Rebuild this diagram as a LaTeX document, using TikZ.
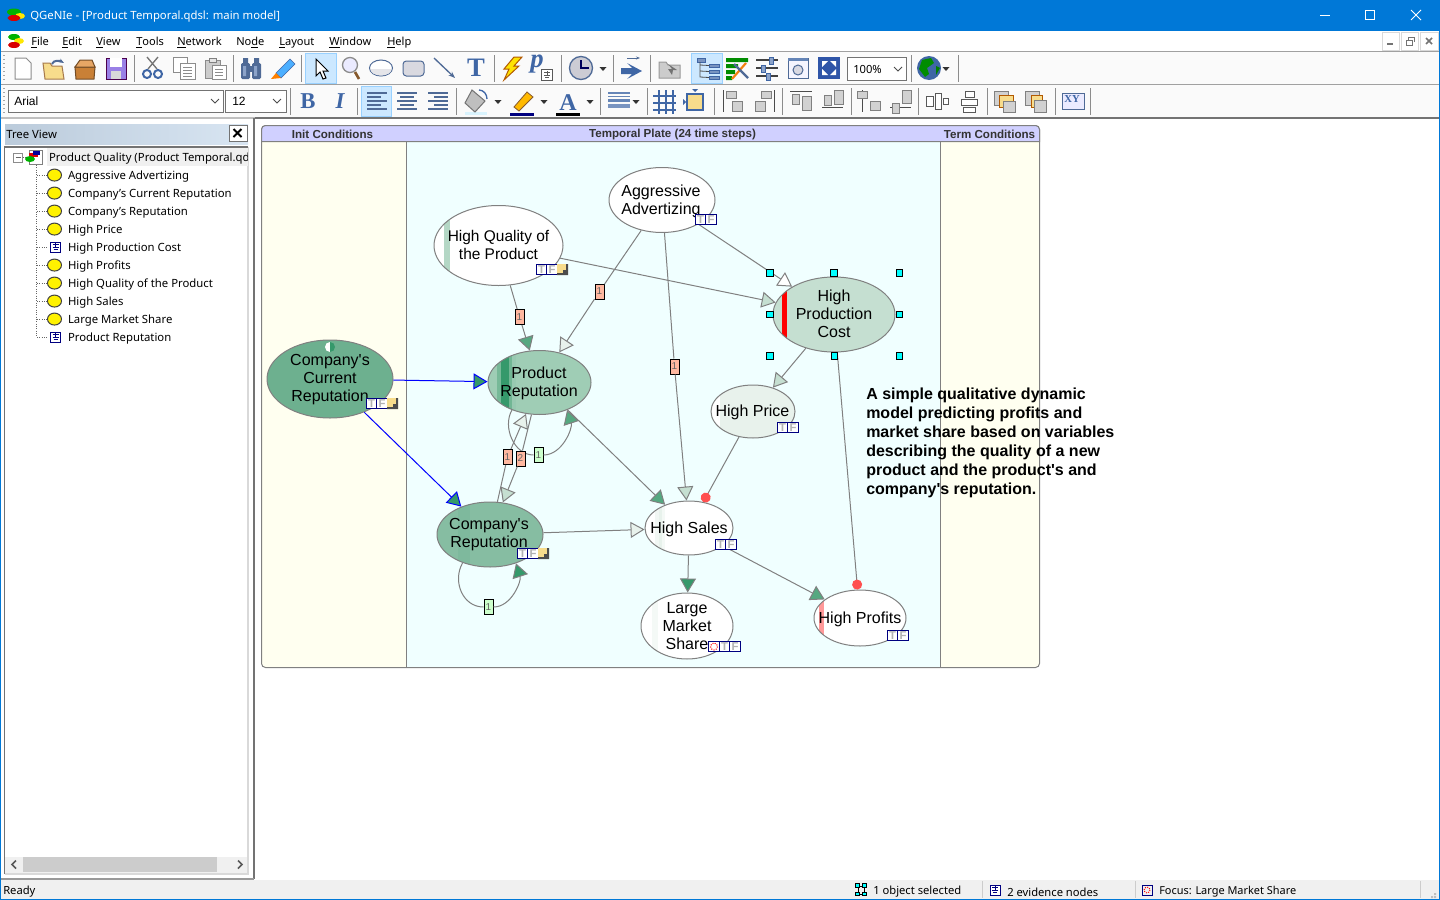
\documentclass[tikz,border=0pt]{standalone}
\usepackage{fontspec}
\usetikzlibrary{positioning,shapes.geometric,arrows.meta}
\setmainfont{Noto Sans}
\newfontfamily\arial{Liberation Sans}
\newfontfamily\serifb{Liberation Serif}
\definecolor{winblue}{HTML}{0078D7}
\definecolor{chrome}{HTML}{F0F0F0}
\definecolor{rulegray}{HTML}{A0A0A0}
\definecolor{hotfill}{HTML}{CCE8FF}
\definecolor{hotline}{HTML}{99D1FF}
\definecolor{iconblue}{HTML}{3F66A5}
\definecolor{icondark}{HTML}{4F6A96}
\definecolor{ivory}{HTML}{FFFFF0}
\definecolor{azure}{HTML}{F0FFFF}
\definecolor{plateband}{HTML}{D0D0FF}
\definecolor{edgegray}{HTML}{808080}
\definecolor{navyb}{HTML}{000080}
\definecolor{hdark}{HTML}{35996B}
\definecolor{hmid}{HTML}{55A880}
\definecolor{hpale}{HTML}{C5DFD1}
\definecolor{hwhite}{HTML}{E8F2EC}
\definecolor{redtip}{HTML}{FF5050}
\definecolor{lagred}{HTML}{FFB8A0}
\definecolor{laggreen}{HTML}{CCFFCC}
\definecolor{handlecyan}{HTML}{00FFFF}
\definecolor{currentf}{HTML}{6DB08F}
\definecolor{companyf}{HTML}{86BDA2}
\definecolor{productf}{HTML}{9FCDB5}
\definecolor{notey}{HTML}{F7DC8C}
\definecolor{headl}{HTML}{BBCBDB}
\definecolor{headr}{HTML}{D8E5F2}
\definecolor{fitblue}{HTML}{2F55A8}
\tikzset{
  wh/.style 2 args={minimum width=#1*0.75pt, minimum height=#2*0.75pt},
  bn/.style={ellipse, draw=edgegray, line width=0.75pt, inner sep=0pt, fill=white},
  bntext/.style={align=center, inner sep=0pt, font=\arial\fontsize{12}{13.5}\selectfont},
  link/.style={draw=edgegray, line width=0.75pt},
  tip/.style={-{Triangle[length=10.5pt,width=12pt,fill=#1]}},
  redcap/.style={-{Circle[length=7.5pt,fill=redtip,color=redtip]}},
  lag/.style={draw=black, line width=0.75pt, inner sep=0pt, wh={9}{15}, fill=#1,
    font=\arial\fontsize{7.5}{8}\selectfont, text=black!60},
  tfbox/.style={draw=navyb, line width=0.75pt, fill=white, inner sep=0pt, wh={10.5}{10.5},
    font=\arial\bfseries\fontsize{8.5}{8.5}\selectfont, text=black!30},
  notebox/.style={draw=none, fill=notey, inner sep=0pt, wh={11}{11},
    path picture={\fill[black!70] (5.5,-5.5) rectangle (3.5,5.5) (-5.5,5.5) rectangle (5.5,3.5);
      \fill[black!70] (0.5,0.5) rectangle (3.5,3.5);}},
  handle/.style={rectangle, draw=black, line width=0.75pt, fill=handlecyan, inner sep=0pt, wh={6.5}{6.5}},
  ui/.style={inner sep=0pt, anchor=west, font=\fontsize{8.4}{10}\selectfont},
  menu/.style={ui, font=\fontsize{8.3}{10}\selectfont},
  treetext/.style={ui, outer sep=0pt, font=\fontsize{8.5}{10}\selectfont, minimum height=13.5pt, text height=7pt, text depth=2pt},
  bulb/.style={ellipse, draw=black!75, line width=0.75pt, fill=yellow, inner sep=0pt, wh={14}{12}},
  evbox/.style={rectangle, draw=navyb, line width=0.75pt, fill=white, inner sep=0pt, wh={10}{10},
    path picture={\draw[line width=0.5pt] (-3,-2.5) -- (3,-2.5) (-3,0) -- (3,0) (-2,2.5) -- (2,2.5) (0,-4) -- (0,0);}},
  sepline/.style={draw=black!45, line width=0.75pt},
  combo/.style={draw=black!55, line width=0.75pt, fill=white},
  hotbox/.style={draw=hotline, line width=0.75pt, fill=hotfill},
  graybox/.style={draw=black!50, line width=0.6pt, fill=black!18},
  rowline/.style={line width=1.4pt, draw=icondark},
  plateh/.style={inner sep=0pt, font=\arial\bfseries\fontsize{8.7}{10}\selectfont, text=black!80},
  ddown/.pic={\fill[black!80] (-3.5,-2) -- (3.5,-2) -- (0,2) -- cycle;},
  chevron/.pic={\draw[black!70, line width=0.75pt] (-4,-2) -- (0,2) -- (4,-2);},
}
\begin{document}
\begin{tikzpicture}[x=0.75pt,y=-0.75pt]
\useasboundingbox (0,0) rectangle (1440,900);
% window frame, title bar
\fill[white] (0,0) rectangle (1440,900);
\fill[winblue] (0,0) rectangle (1440,31);
\fill[green!70!black] (14,12) ellipse (7 and 3.5);
\fill[yellow!90!orange] (20,16) ellipse (5 and 3);
\fill[red!85!black] (14,18) ellipse (6.5 and 3);
\node[ui, text=white, font=\fontsize{8.5}{10}\selectfont] (title) at (30,17) {QGeNIe - [Product Temporal.qdsl: main model]};
\draw[white, line width=0.75pt] (1320,15.5) -- (1330,15.5);
\draw[white, line width=0.75pt] (1365.5,10.5) rectangle (1374.5,19.5);
\draw[white, line width=0.75pt] (1411,10) -- (1421,20) (1411,20) -- (1421,10);

% menu bar
\fill[green!70!black] (14,37) ellipse (6 and 3);
\fill[yellow!90!orange] (19,41) ellipse (5 and 3);
\fill[red!85!black] (14,45) ellipse (6 and 3);
\node[menu] (mfile) at (31,42.5) {\underline{F}ile};
\node[menu] (medit) at (62,42.5) {\underline{E}dit};
\node[menu] (mview) at (96,42.5) {\underline{V}iew};
\node[menu] (mtools) at (136,42.5) {\underline{T}ools};
\node[menu] (mnet) at (177,42.5) {\underline{N}etwork};
\node[menu] (mnode) at (236,42.5) {No\underline{d}e};
\node[menu] (mlayout) at (279,42.5) {\underline{L}ayout};
\node[menu] (mwin) at (329,42.5) {\underline{W}indow};
\node[menu] (mhelp) at (387,42.5) {\underline{H}elp};
\draw[black!15, line width=0.75pt] (1382,32) rectangle (1399,50) (1401,32) rectangle (1418,50) (1420,32) rectangle (1438,50);
\draw[black!55, line width=1.2pt] (1387,44) -- (1393,44);
\draw[black!55, line width=0.75pt] (1406,40) rectangle (1412,45) (1408,40) -- (1408,37) -- (1414,37) -- (1414,42);
\draw[black!55, line width=1.3pt] (1426,38) -- (1432,44) (1426,44) -- (1432,38);

% toolbars
\fill[black!2] (1,52) rectangle (1440,84);
\fill[black!2] (1,85) rectangle (1440,117);
\draw[rulegray, line width=0.75pt] (0,51.5) -- (1440,51.5) (0,84.5) -- (1440,84.5);
\draw[black!25, line width=1.1pt] (0,118) -- (255,118);
\draw[black!55, line width=1.1pt] (255,118) -- (1440,118);
\draw[black!35, line width=1pt, dotted] (4,55) -- (4,82) (4,88) -- (4,115);
\draw[sepline] (134,55) -- (134,82) (233,55) -- (233,82) (301,55) -- (301,82) (494,55) -- (494,82) (561,55) -- (561,82) (613,55) -- (613,82) (650,55) -- (650,82) (911,55) -- (911,82) (958,55) -- (958,82);
\draw[sepline] (290,88) -- (290,115) (357,88) -- (357,115) (456,88) -- (456,115) (600,88) -- (600,115) (647,88) -- (647,115) (714,88) -- (714,115) (782,88) -- (782,115) (851,88) -- (851,115) (918,88) -- (918,115) (987,88) -- (987,115) (1055,88) -- (1055,115) (1090,88) -- (1090,115);

% first row of icons
\filldraw[fill=white, draw=black!45, line width=0.75pt] (15,58) -- (26,58) -- (31,63) -- (31,79) -- (15,79) -- cycle;
\filldraw[fill=notey, draw=orange!50!black!70, line width=0.75pt] (43,63) -- (50,63) -- (52,66) -- (62,66) -- (64,79) -- (45,79) -- cycle;
\draw[icondark, line width=1.5pt, -{Stealth[length=4pt]}] (52,64) to[out=70,in=150] (64,63);
\filldraw[fill=brown!85!orange, draw=brown!60!black, line width=0.75pt] (75,67) -- (95,67) -- (94,79) -- (76,79) -- cycle;
\filldraw[fill=orange!45!brown!70, draw=brown!60!black, line width=0.75pt] (75,67) -- (80,60) -- (92,60) -- (95,67) -- cycle;
\filldraw[fill=violet!40!blue!50, draw=violet!60!black, line width=0.75pt] (106,58) rectangle (126,79);
\fill[white] (110,58) rectangle (122,67);
\fill[black!15] (111,71) rectangle (121,79);
\draw[black!55, line width=1pt] (148,69) -- (158,57) (157,69) -- (147,57);
\draw[iconblue, line width=1.5pt] (147,74) circle (4) (158,74) circle (4);
\filldraw[fill=white, draw=black!45, line width=0.75pt] (173,57) rectangle (187,72);
\filldraw[fill=white, draw=black!45, line width=0.75pt] (180,63) rectangle (195,79);
\draw[black!45, line width=0.75pt] (183,67) -- (192,67) (183,70) -- (192,70) (183,73) -- (192,73) (183,76) -- (192,76);
\filldraw[fill=black!20, draw=black!45, line width=0.75pt] (205,60) rectangle (220,78);
\filldraw[fill=black!10, draw=black!50, line width=0.75pt] (209,58) rectangle (216,62);
\filldraw[fill=white, draw=black!45, line width=0.75pt] (212,65) rectangle (226,79);
\draw[black!45, line width=0.75pt] (215,69) -- (223,69) (215,72) -- (223,72) (215,75) -- (223,75);
\fill[icondark] (243,58) rectangle (248,63) (254,58) rectangle (259,63);
\fill[icondark, rounded corners=1pt] (241,63) rectangle (250,79) (252,63) rectangle (261,79);
\fill[icondark] (249,66) rectangle (253,72);
\fill[iconblue!60!white] (243,66) rectangle (246,76) (254,66) rectangle (257,76);
\filldraw[fill=blue!45!cyan!70, draw=iconblue, line width=0.5pt] (276,73) -- (290,59) -- (295,64) -- (281,78) -- cycle;
\fill[orange] (276,73) -- (281,78) -- (271,79) -- cycle;
\filldraw[hotbox] (305,53) rectangle (336,83);
\filldraw[fill=white, draw=black, line width=0.75pt] (316,59) -- (316,76) -- (320,72) -- (323,79) -- (326,78) -- (323,71) -- (328,71) -- cycle;
\draw[brown!70!black, line width=2pt] (355,72) -- (359,79);
\filldraw[fill=blue!8, draw=black!45, line width=1pt] (350,65) circle (7.5);
\filldraw[fill=white, draw=icondark, line width=0.75pt] (381,68) ellipse (11.5 and 8);
\fill[blue!15!black!10] (370.5,69) arc (180:0:10.5 and 6.5) -- cycle;
\filldraw[fill=blue!20!black!15, draw=icondark, line width=0.75pt, rounded corners=2.5pt] (403,61) rectangle (424,76);
\draw[icondark, line width=1pt, -{Stealth[length=5pt]}] (434,58) -- (455,78);
\node[inner sep=0pt, text=iconblue, font=\serifb\bfseries\fontsize{20}{20}\selectfont] (ttool) at (476,68) {T};
\filldraw[fill=yellow!85!orange, draw=orange!70!black, line width=0.75pt] (514,57) -- (522,57) -- (514,66) -- (519,66) -- (504,80) -- (509,69) -- (504,69) -- cycle;
\node[inner sep=0pt, text=iconblue, font=\serifb\bfseries\itshape\fontsize{20}{20}\selectfont] (ptool) at (537,64) {p};
\node[evbox, wh={11}{11}, draw=black!65] (pground) at (547,75) {};
\filldraw[fill=blue!15!black!20, draw=icondark, line width=1pt] (581,68) circle (11.5);
\draw[navyb!70!black, line width=1.2pt] (581,60) -- (581,68) -- (589,68);
\pic at (603,69) {ddown};
\fill[iconblue] (621,68) -- (632,68) -- (627,63) -- (642,71) -- (627,79) -- (632,74) -- (621,74) -- cycle;
\draw[icondark, line width=0.75pt, -{Stealth[length=3pt]}] (627,58) -- (640,58);
\filldraw[fill=black!20, draw=black!40, line width=0.75pt] (659,62) -- (666,62) -- (668,65) -- (680,65) -- (680,78) -- (659,78) -- cycle;
\fill[black!55] (672,75) -- (668,69) -- (672,69) -- (668,64) -- (677,70) -- (673,70) -- cycle;
\filldraw[hotbox] (691,53) rectangle (722,83);
\filldraw[fill=iconblue!70!white, draw=iconblue] (697,58) rectangle (705,62);
\filldraw[fill=iconblue!70!white, draw=iconblue] (709,64) rectangle (719,67) (709,70) rectangle (719,73) (709,76) rectangle (719,79);
\draw[black!70, line width=0.6pt] (700,62) -- (700,77) -- (709,77.5) (700,65) -- (709,65.5) (700,71) -- (709,71.5);
\fill[green!55!black] (726,58) rectangle (748,62) (726,64) rectangle (738,68) (726,70) rectangle (735,74) (726,76) rectangle (732,80);
\draw[orange!80!brown, line width=1.6pt] (732,79) -- (746,63);
\draw[icondark, line width=1.6pt] (734,64) -- (748,78);
\draw[black!75, line width=1pt] (756,60) -- (778,60) (756,68) -- (778,68) (756,76) -- (778,76);
\filldraw[fill=iconblue!60!white, draw=iconblue] (769,57) rectangle (773,64) (761,65) rectangle (765,72) (766,73) rectangle (770,80);
\filldraw[fill=blue!4, draw=icondark, line width=0.75pt] (788,58) rectangle (808,78);
\fill[iconblue!80!white] (788,58) rectangle (808,61);
\filldraw[fill=blue!25!black!15, draw=icondark, line width=0.75pt] (798,70) circle (5);
\fill[fitblue] (818,57) rectangle (840,79);
\fill[white] (822,61) -- (828,61) -- (822,67) -- cycle (836,61) -- (830,61) -- (836,67) -- cycle (822,75) -- (828,75) -- (822,69) -- cycle (836,75) -- (830,75) -- (836,69) -- cycle;
\filldraw[combo] (847,57) rectangle (906,80);
\node[ui] (zoomval) at (853,69) {100\%};
\pic at (898,69) {chevron};
\fill[iconblue] (929,68) circle (12);
\fill[green!55!black] (922,60) -- (931,58) -- (934,63) -- (927,68) -- (929,74) -- (925,77) -- (919,69) -- cycle;
\fill[green!50!black] (936,66) -- (940,68) -- (936,75) -- cycle;
\pic at (946,69) {ddown};

% second row: combos and formatting icons
\filldraw[combo] (8,90) rectangle (223,112);
\node[ui, font=\arial\fontsize{9}{10}\selectfont] (fontname) at (14,101) {Arial};
\pic at (215,101) {chevron};
\filldraw[combo] (225,90) rectangle (286,112);
\node[ui, font=\arial\fontsize{9}{10}\selectfont] (fontsize) at (232,101) {12};
\pic at (277,101) {chevron};
\node[inner sep=0pt, text=iconblue, font=\serifb\bfseries\fontsize{17}{17}\selectfont] (boldtool) at (308,101) {B};
\node[inner sep=0pt, text=iconblue, font=\serifb\bfseries\itshape\fontsize{17}{17}\selectfont] (italictool) at (340,101) {I};
\filldraw[hotbox] (361,86) rectangle (391,116);
\draw[rowline] (367,93) -- (387,93) (367,97) -- (381,97) (367,101) -- (387,101) (367,105) -- (381,105) (367,109) -- (387,109);
\draw[rowline] (397,93) -- (417,93) (400,97) -- (414,97) (397,101) -- (417,101) (400,105) -- (414,105) (397,109) -- (417,109);
\draw[rowline] (428,93) -- (448,93) (434,97) -- (448,97) (428,101) -- (448,101) (434,105) -- (448,105) (428,109) -- (448,109);
\fill[cyan!15] (465,112) rectangle (487,115);
\filldraw[fill=black!25, draw=black!55, line width=0.75pt] (472,90) -- (485,101) -- (475,112) -- (465,103) -- cycle;
\draw[iconblue, line width=1pt] (479,90) to[out=0,in=90] (487,99);
\pic at (498,102) {ddown};
\filldraw[fill=orange!55!yellow, draw=brown!70!black, line width=0.6pt] (514,107) -- (527,92) -- (533,97) -- (519,111) -- cycle;
\fill[navyb] (510,113) rectangle (534,116);
\pic at (544,102) {ddown};
\node[inner sep=0pt, text=iconblue, font=\serifb\bfseries\fontsize{18}{18}\selectfont] (colortool) at (568,103) {A};
\fill[black] (556,113) rectangle (580,116);
\pic at (590,102) {ddown};
\draw[iconblue!80!white, line width=1pt] (608,93) -- (630,93);
\draw[iconblue!80!white, line width=1.4pt] (608,96.5) -- (630,96.5);
\draw[iconblue!80!white, line width=2pt] (608,100.5) -- (630,100.5);
\draw[iconblue!70!white, line width=3pt] (608,106) -- (630,106);
\pic at (636,102) {ddown};
\draw[iconblue, line width=1pt] (653,96) -- (676,96) (653,103) -- (676,103) (653,110) -- (676,110) (659,90) -- (659,114) (666,90) -- (666,114) (673,90) -- (673,114);
\filldraw[fill=notey, draw=iconblue, line width=1pt] (687,94) rectangle (703,110);
\fill[iconblue] (692,89) -- (698,89) -- (695,92) -- cycle (683,99) -- (686,102) -- (683,105) -- cycle;
% alignment icons
\draw[black!70, line width=0.75pt] (723,90) -- (723,112);
\filldraw[graybox] (726,91) rectangle (736,98) (732,101) rectangle (742,111);
\draw[black!70, line width=0.75pt] (774,90) -- (774,112);
\filldraw[graybox] (761,91) rectangle (771,98) (755,101) rectangle (765,111);
\draw[black!70, line width=0.75pt] (790,91) -- (812,91);
\filldraw[graybox] (792,94) rectangle (799,104) (802,96) rectangle (811,110);
\draw[black!70, line width=0.75pt] (822,107) -- (843,107);
\filldraw[graybox] (824,95) rectangle (831,105) (834,90) rectangle (843,104);
\draw[black!70, line width=0.75pt] (862,90) -- (862,112);
\filldraw[graybox] (857,91) rectangle (867,98) (870,101) rectangle (880,110);
\draw[black!70, line width=0.75pt] (890,107) -- (911,107);
\filldraw[graybox] (892,103) rectangle (899,113) (902,90) rectangle (911,103);
\filldraw[fill=white, draw=black!65, line width=0.6pt] (926,96) rectangle (933,106) (935,93) rectangle (941,109) (943,98) rectangle (948,104);
\filldraw[fill=white, draw=black!65, line width=0.6pt] (965,91) rectangle (974,97) (961,99) rectangle (977,105) (963,107) rectangle (975,112);
\filldraw[graybox] (994,91) rectangle (1008,105);
\filldraw[fill=notey, draw=orange!70!black, line width=0.6pt] (999,95) rectangle (1013,107);
\filldraw[graybox] (1003,101) rectangle (1015,112);
\filldraw[graybox] (1025,91) rectangle (1039,105);
\filldraw[fill=notey, draw=orange!70!black, line width=0.6pt] (1031,95) rectangle (1042,107);
\filldraw[graybox] (1034,100) rectangle (1046,112);
\filldraw[fill=blue!8, draw=icondark, line width=0.75pt] (1062,93) rectangle (1084,109);
\node[inner sep=0pt, text=iconblue, font=\serifb\bfseries\fontsize{8}{8}\selectfont] (xytool) at (1072,99) {XY};

% tree view panel
\fill[left color=headl, right color=headr] (5,124) rectangle (248,144);
\node[ui, font=\fontsize{8.5}{10}\selectfont] (treehead) at (6,134) {Tree View};
\filldraw[fill=white, draw=black!55, line width=0.75pt] (229,125) rectangle (247,141);
\draw[black, line width=1.4pt] (233.5,129) -- (241.5,137) (233.5,137) -- (241.5,129);
\draw[black!15, line width=0.9pt] (4.5,874) -- (248,874) -- (248,147);
\draw[black!55, line width=0.9pt] (4.5,874) -- (4.5,147) -- (248,147);
\draw[black!55, line width=1.1pt] (254,118) -- (254,879);
\draw[black!40, line width=1.1pt] (0,879) -- (254,879);
\fill[chrome] (47,148) rectangle (248,166);
\begin{scope}
\clip (47,148) rectangle (247.5,166);
\node[treetext] (troot) at (49,158) {Product Quality (Product Temporal.qdsl)};
\end{scope}
\filldraw[fill=white, draw=black!45, line width=0.75pt] (13.5,153) rectangle (22.5,162);
\draw[black!60, line width=0.75pt] (15.5,157.5) -- (20.5,157.5);
\draw[black!60, line width=0.75pt, densely dotted] (23,157.5) -- (28,157.5) (36.5,165) -- (36.5,337) (37,175) -- (48,175) (37,193) -- (48,193) (37,211) -- (48,211) (37,229) -- (48,229) (37,247) -- (48,247) (37,265) -- (48,265) (37,283) -- (48,283) (37,301) -- (48,301) (37,319) -- (48,319) (37,337) -- (48,337);
\filldraw[fill=white, draw=black!50, line width=0.5pt] (29,150) rectangle (42,164);
\fill[red!85!black] (29,153) rectangle (38,157);
\fill[navyb!80!blue] (33,151) rectangle (40,155);
\fill[green!70!black] (30,159) ellipse (5 and 3);
\node[treetext] (t1) at (68,176) {Aggressive Advertizing};
\node[treetext, below=0pt of t1.south west, anchor=north west] (t2) {Company's Current Reputation};
\node[treetext, below=0pt of t2.south west, anchor=north west] (t3) {Company's Reputation};
\node[treetext, below=0pt of t3.south west, anchor=north west] (t4) {High Price};
\node[treetext, below=0pt of t4.south west, anchor=north west] (t5) {High Production Cost};
\node[treetext, below=0pt of t5.south west, anchor=north west] (t6) {High Profits};
\node[treetext, below=0pt of t6.south west, anchor=north west] (t7) {High Quality of the Product};
\node[treetext, below=0pt of t7.south west, anchor=north west] (t8) {High Sales};
\node[treetext, below=0pt of t8.south west, anchor=north west] (t9) {Large Market Share};
\node[treetext, below=0pt of t9.south west, anchor=north west] (t10) {Product Reputation};
\node[bulb, left=4.5pt of t1.west, yshift=0.7pt] (b1) {};
\node[bulb, left=4.5pt of t2.west, yshift=0.7pt] (b2) {};
\node[bulb, left=4.5pt of t3.west, yshift=0.7pt] (b3) {};
\node[bulb, left=4.5pt of t4.west, yshift=0.7pt] (b4) {};
\node[evbox, left=5.25pt of t5.west, yshift=0.7pt] (b5) {};
\node[bulb, left=4.5pt of t6.west, yshift=0.7pt] (b6) {};
\node[bulb, left=4.5pt of t7.west, yshift=0.7pt] (b7) {};
\node[bulb, left=4.5pt of t8.west, yshift=0.7pt] (b8) {};
\node[bulb, left=4.5pt of t9.west, yshift=0.7pt] (b9) {};
\node[evbox, left=5.25pt of t10.west, yshift=0.7pt] (b10) {};
\fill[chrome] (5,857) rectangle (247,873);
\fill[black!20] (23,857) rectangle (217,872);
\draw[black!65, line width=1.2pt] (16,860.5) -- (12,864.5) -- (16,868.5) (238,860.5) -- (242,864.5) -- (238,868.5);

% status bar
\fill[chrome] (0,880) rectangle (1440,899);
\draw[winblue, line width=0.9pt] (0.4,31) -- (0.4,899.5) -- (1439.6,899.5) -- (1439.6,31);
\node[ui] (ready) at (3,892) {Ready};
\draw[black!20, line width=0.75pt] (982,881) -- (982,898) (1135,881) -- (1135,898) (1420,881) -- (1420,898);
\draw[black, line width=0.75pt] (858,886) -- (864,886) -- (864,894) -- (858,894) -- cycle;
\node[handle, wh={3.5}{3.5}] (s1) at (857.5,885.5) {};
\node[handle, wh={3.5}{3.5}] (s2) at (864.5,885.5) {};
\node[handle, wh={3.5}{3.5}] (s3) at (857.5,894) {};
\node[handle, wh={3.5}{3.5}] (s4) at (864.5,894) {};
\node[ui] (selinfo) at (873,892) {1 object selected};
\node[evbox] (evicon) at (995,890) {};
\node[ui] (evinfo) at (1007,892) {2 evidence nodes};
\draw[navyb, line width=0.75pt] (1142,885) rectangle (1152,895);
\draw[red, line width=0.75pt, densely dotted] (1147,890) circle (3);
\node[ui, font=\fontsize{8.2}{10}\selectfont] (focusinfo) at (1159,892) {Focus: Large Market Share};
\fill[black!25] (1434,893) rectangle (1436,895) (1431,896) rectangle (1433,898) (1434,896) rectangle (1436,898);

% temporal plate
\filldraw[fill=ivory, draw=edgegray, line width=0.75pt, rounded corners=3pt] (261.5,125.5) rectangle (1039.5,667.5);
\fill[azure] (406.5,141.5) rectangle (940.5,667);
\filldraw[fill=plateband, draw=edgegray, line width=0.75pt] (261.5,141.5) {[rounded corners=3pt] -- (261.5,125.5) -- (1039.5,125.5)} -- (1039.5,141.5) -- cycle;
\draw[edgegray, line width=0.75pt] (406.5,141.5) -- (406.5,667.5) (940.5,141.5) -- (940.5,667.5);
\node[plateh] (plateinit) at (332.5,134) {Init Conditions};
\node[plateh] (platemid) at (672.5,134) {Temporal Plate (24 time steps)};
\node[plateh] (plateterm) at (989.5,134) {Term Conditions};

% model nodes
\node[bn, wh={106}{65}] (advert) at (662,200) {};
\node[bn, wh={129}{80}, path picture={\fill[hpale!85!hmid] (-54.5,-100) rectangle (-48.5,100);}] (quality) at (498.5,245.5) {};
\node[bn, wh={103}{64}, fill=productf, path picture={
    \fill[hmid!70!hpale] (-43,-100) rectangle (-39,100);
    \fill[hdark] (-39,-100) rectangle (-31,100);
    \fill[hmid!75!hpale] (-31,-100) rectangle (-28,100);
    \fill[hmid!40!hpale] (-28,-100) rectangle (-24,100);}] (product) at (539.5,382.5) {};
\node[bn, wh={126}{78}, fill=currentf] (current) at (330,379) {};
\node[bn, wh={106}{65}, fill=companyf, path picture={\fill[companyf!90!hdark] (-32,-100) rectangle (-20,100);}] (company) at (490,534.5) {};
\node[bn, wh={122}{75}, fill=hpale, path picture={\fill[red] (-52,-100) rectangle (-47,100);}] (cost) at (834,314.5) {};
\node[bn, wh={84}{53}, fill=hwhite, path picture={\fill[white] (-42,-100) rectangle (-33,100);}] (price) at (753,411.5) {};
\node[bn, wh={88}{54}, path picture={
    \fill[hwhite!60!white] (-34,-100) rectangle (-30,100);
    \fill[hwhite] (-30,-100) rectangle (-27,100);
    \fill[hwhite!50!white] (-27,-100) rectangle (-24,100);}] (sales) at (689,528) {};
\node[bn, wh={92}{66}, path picture={\fill[hwhite!50!white] (-35,-100) rectangle (-29,100);}] (market) at (687,626) {};
\node[bn, wh={92}{56}, path picture={\fill[red!40] (-41,-100) rectangle (-36,100);}] (profits) at (860,618) {};

% loop of the product node runs under the lag labels
\node[lag=laggreen] (loopp) at (538.5,455) {1};
\draw[link] (product.225) to[out=240,in=180,looseness=1] (loopp);
\draw[link, tip=hmid] (loopp) to[out=0,in=-72,looseness=0.95] (product.-45);

% lag labels on the arcs
\node[lag=lagred] (lagq) at (519.5,317) {1};
\node[lag=lagred] (laga) at (599.5,291.5) {1};
\node[lag=lagred] (lags) at (674.5,366.5) {1};
\node[lag=lagred] (lagr) at (507.5,457) {1};
\node[lag=lagred] (lagp) at (520.5,458.5) {2};
\node[lag=laggreen] (loopc) at (488.5,607) {1};

% arcs
\draw[link, tip=white] (advert) -- (cost);
\draw[link, tip=hpale] (quality) -- (cost);
\draw[link] (quality) -- (lagq);
\draw[link, tip=hmid] (lagq) -- (product);
\draw[link] (advert) -- (laga);
\draw[link, tip=hwhite] (laga) -- (product);
\draw[link] (advert) -- (lags);
\draw[link, tip=hpale] (lags) -- (sales);
\draw[link, tip=hpale] (cost) -- (price);
\draw[link, redcap] (cost) -- (profits);
\draw[link, redcap] (price) -- (sales);
\draw[draw=blue, line width=0.75pt, -{Triangle[length=10.5pt,width=12pt,fill=hdark,color=blue]}] (current) -- (product);
\draw[draw=blue, line width=0.75pt, -{Triangle[length=10.5pt,width=12pt,fill=hdark,color=blue]}] (current) -- (company);
\draw[link] (company) -- (lagr);
\draw[link, tip=hwhite] (lagr) -- (product);
\draw[link] (product) -- (lagp);
\draw[link, tip=hpale] (lagp) -- (company);
\draw[link, tip=hmid] (product) -- (sales);
\draw[link, tip=hwhite] (company) -- (sales);
\draw[link, tip=hdark] (sales) -- (market);
\draw[link, tip=hmid] (sales) -- (profits);
\draw[link] (company.226) to[out=240,in=180,looseness=1.1] (loopc);
\draw[link, tip=hdark] (loopc) to[out=0,in=-72,looseness=0.95] (company.-48);

% node texts and badges
\node[bntext] (advertT) at (661,201) {Aggressive\\Advertizing};
\node[bntext, font=\arial\fontsize{11.6}{13.5}\selectfont] (qualityT) at (498.5,244.5) {High Quality of\\the Product};
\node[bntext] (productT) at (539,383) {Product\\Reputation};
\node[bntext] (currentT) at (330,380) {Company's\\Current\\Reputation};
\node[bntext] (companyT) at (489,535) {Company's\\Reputation};
\node[bntext] (costT) at (834,313.5) {High\\Production\\Cost};
\node[bntext] (priceT) at (752.5,412) {High Price};
\node[bntext] (salesT) at (689,529) {High Sales};
\node[bntext] (marketT) at (687,626.5) {Large\\Market\\Share};
\node[bntext] (profitsT) at (860,619) {High Profits};

\node[tfbox] (advertTb) at (700.5,219.5) {T};
\node[tfbox, right=-0.75pt of advertTb] (advertFb) {F};
\node[tfbox] (qualityTb) at (541.5,269.5) {T};
\node[tfbox, right=-0.75pt of qualityTb] (qualityFb) {F};
\node[notebox, right=-0.75pt of qualityFb] (qualityNb) {};
\node[tfbox] (currentTb) at (371.5,403.5) {T};
\node[tfbox, right=-0.75pt of currentTb] (currentFb) {F};
\node[notebox, right=-0.75pt of currentFb] (currentNb) {};
\node[tfbox] (companyTb) at (522.5,553.5) {T};
\node[tfbox, right=-0.75pt of companyTb] (companyFb) {F};
\node[notebox, right=-0.75pt of companyFb] (companyNb) {};
\node[tfbox] (priceTb) at (782.5,427.5) {T};
\node[tfbox, right=-0.75pt of priceTb] (priceFb) {F};
\node[tfbox] (salesTb) at (720.5,544.5) {T};
\node[tfbox, right=-0.75pt of salesTb] (salesFb) {F};
\node[tfbox] (marketTb) at (724.5,646.5) {T};
\node[tfbox, right=-0.75pt of marketTb] (marketFb) {F};
\node[tfbox, left=-0.75pt of marketTb, path picture={\draw[red, line width=0.8pt, densely dotted] (0,0) circle (3.5);}] (marketFocus) {};
\node[tfbox] (profitsTb) at (892.5,635.5) {T};
\node[tfbox, right=-0.75pt of profitsTb] (profitsFb) {F};

% evidence mark on the current reputation node
\fill[white] (330,352) arc (90:270:5);
\fill[hdark] (330,352) arc (90:-90:5);

% selection handles of High Production Cost
\node[handle] (h1) at (770,273) {};
\node[handle] (h2) at (834,273) {};
\node[handle] (h3) at (899.5,273) {};
\node[handle] (h4) at (770,314.5) {};
\node[handle] (h5) at (899.5,314.5) {};
\node[handle] (h6) at (770,356) {};
\node[handle] (h7) at (834.5,356) {};
\node[handle] (h8) at (899.5,356) {};

% free text
\node[inner sep=0pt, anchor=north west, align=left, font=\arial\bfseries\fontsize{12}{14.25}\selectfont] (note) at (866,387.5) {A simple qualitative dynamic\\model predicting profits and\\market share based on variables\\describing the quality of a new\\product and the product's and\\company's reputation.};
\end{tikzpicture}
\end{document}
